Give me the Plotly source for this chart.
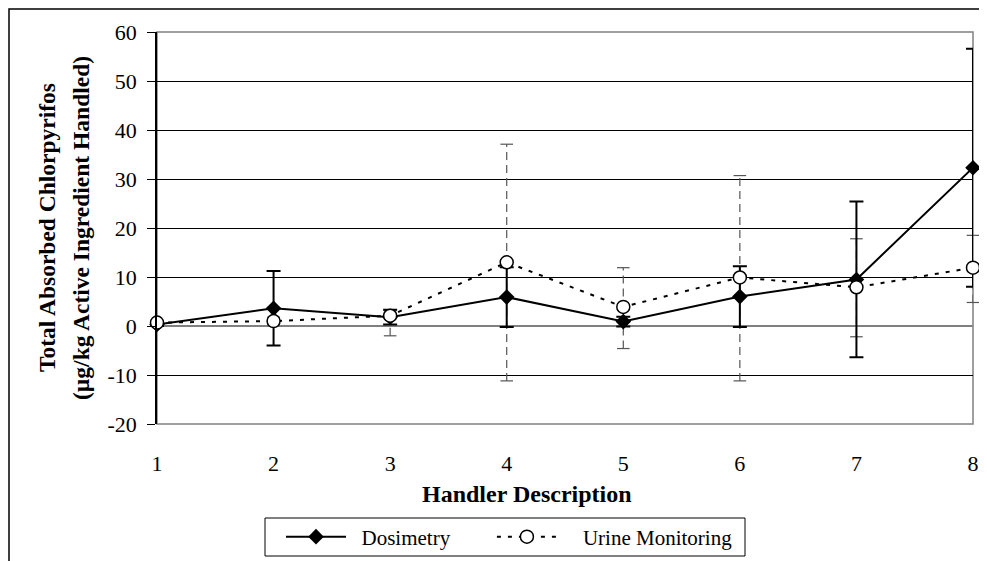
import plotly.graph_objects as go

# ---- data ----
handlers = [1, 2, 3, 4, 5, 6, 7, 8]
dosimetry = [0.3, 3.6, 1.8, 5.9, 0.9, 6.0, 9.5, 32.3]
dosimetry_err = [0.3, 7.6, 1.5, 6.1, 1.0, 6.2, 15.9, 24.3]
urine = [0.7, 1.0, 2.1, 13.0, 3.9, 9.9, 7.9, 11.9]
urine_err_plus = [0.5, 0.8, 1.0, 24.1, 8.0, 20.8, 9.9, 6.6]
urine_err_minus = [0.5, 0.8, 4.1, 24.2, 8.5, 21.1, 10.1, 7.1]
y_ticks = [-20, -10, 0, 10, 20, 30, 40, 50, 60]
y_tick_text = ["-20", "-10", "0", "10", "20", "30", "40", "50", "60"]

FONT = "Liberation Serif"
NB = "\u00a0"

# page body adds an 8px offset; the figure is sized to fill the rest of the window
OFF = 8
W, H = 987 - OFF, 561 - OFF
# plot area in window pixels: left 157, right 973, top 32, bottom 424
PL, PR, PT, PB = 157, 973, 32, 424
L, R, T, B = PL - OFF, W - (PR - OFF), PT - OFF, H - (PB - OFF)


def px_x(p):
    return (p - PL) / (PR - PL)


def px_y(p):
    return (PB - p) / (PB - PT)


fig = go.Figure()

# urine error bars (dashed) built from the data arrays
ex, ey, cx, cy = [], [], [], []
for x, v, ep, em in zip(handlers, urine, urine_err_plus, urine_err_minus):
    ex += [x, x, None]
    ey += [v - em, v + ep, None]
    cx += [x, x]
    cy += [v - em, v + ep]

fig.add_trace(go.Scatter(
    x=ex, y=ey, mode="lines", showlegend=False, hoverinfo="skip",
    line=dict(color="#555555", width=1.2, dash="8px,5px"), cliponaxis=False))
fig.add_trace(go.Scatter(
    x=cx, y=cy, mode="markers", showlegend=False, hoverinfo="skip",
    marker=dict(symbol="line-ew", size=9, line=dict(color="#555555", width=1.2)),
    cliponaxis=False))

fig.add_trace(go.Scatter(
    x=handlers, y=dosimetry, name=NB * 2 + "Dosimetry" + NB * 7, mode="lines+markers",
    line=dict(color="black", width=2),
    marker=dict(symbol="diamond", size=12, color="black"),
    error_y=dict(type="data", array=dosimetry_err, visible=True,
                 color="black", thickness=2, width=7),
    cliponaxis=False))

fig.add_trace(go.Scatter(
    x=handlers, y=urine, name=NB * 4 + "Urine Monitoring", mode="lines+markers",
    line=dict(color="black", width=2, dash="4px,7px"),
    marker=dict(symbol="circle", size=13, color="white",
                line=dict(color="black", width=1.5)),
    cliponaxis=False))

fig.update_layout(
    width=W, height=H,
    margin=dict(l=L, r=R, t=T, b=B, autoexpand=False),
    paper_bgcolor="white", plot_bgcolor="white",
    font=dict(family=FONT, size=22, color="black"),
    showlegend=True,
    legend=dict(orientation="h", x=px_x(281), xanchor="left",
                y=px_y(537), yanchor="middle",
                borderwidth=0, bgcolor="rgba(0,0,0,0)",
                font=dict(family=FONT, size=21), itemwidth=60,
                traceorder="normal"),
    xaxis=dict(range=[1, 8], tickmode="array", tickvals=handlers,
               ticktext=[str(h) for h in handlers], ticks="",
               showgrid=False, zeroline=False, showline=False, automargin=False,
               ticklabelstandoff=24, tickfont=dict(family=FONT, size=22)),
    yaxis=dict(range=[-20, 60], tickmode="array", tickvals=y_ticks, ticktext=y_tick_text,
               ticks="outside", ticklen=8, tickcolor="black", tickwidth=1,
               showgrid=True, gridcolor="black", gridwidth=1,
               zeroline=True, zerolinecolor="#808080", zerolinewidth=1.5,
               showline=True, linecolor="black", linewidth=1.5, automargin=False,
               ticklabelstandoff=6, tickfont=dict(family=FONT, size=22)),
)

# plot-area border (grey), outer chart border and legend box
fig.add_shape(type="rect", xref="paper", yref="paper", x0=0, x1=1, y0=0, y1=1,
              line=dict(color="#808080", width=1.5), layer="between")
fig.add_shape(type="rect", xref="paper", yref="paper",
              x0=px_x(9), x1=px_x(1000), y0=px_y(600), y1=px_y(9),
              line=dict(color="black", width=1.5), layer="below")
fig.add_shape(type="rect", xref="paper", yref="paper",
              x0=px_x(265), x1=px_x(745), y0=px_y(556), y1=px_y(518),
              line=dict(color="black", width=1), layer="below")

# axis titles
fig.add_annotation(text="<b>Handler Description</b>", xref="paper", yref="paper",
                   x=px_x(527), y=px_y(494), xanchor="center", yanchor="middle",
                   showarrow=False, font=dict(family=FONT, size=24))
fig.add_annotation(text="<b>Total Absorbed Chlorpyrifos</b>", xref="paper", yref="paper",
                   x=px_x(47), y=px_y(228), xanchor="center", yanchor="middle",
                   textangle=-90, showarrow=False, font=dict(family=FONT, size=23.5))
fig.add_annotation(text="<b>(µg/kg Active Ingredient Handled)</b>", xref="paper", yref="paper",
                   x=px_x(81), y=px_y(228), xanchor="center", yanchor="middle",
                   textangle=-90, showarrow=False, font=dict(family=FONT, size=23.5))

fig.write_html("out.html")
